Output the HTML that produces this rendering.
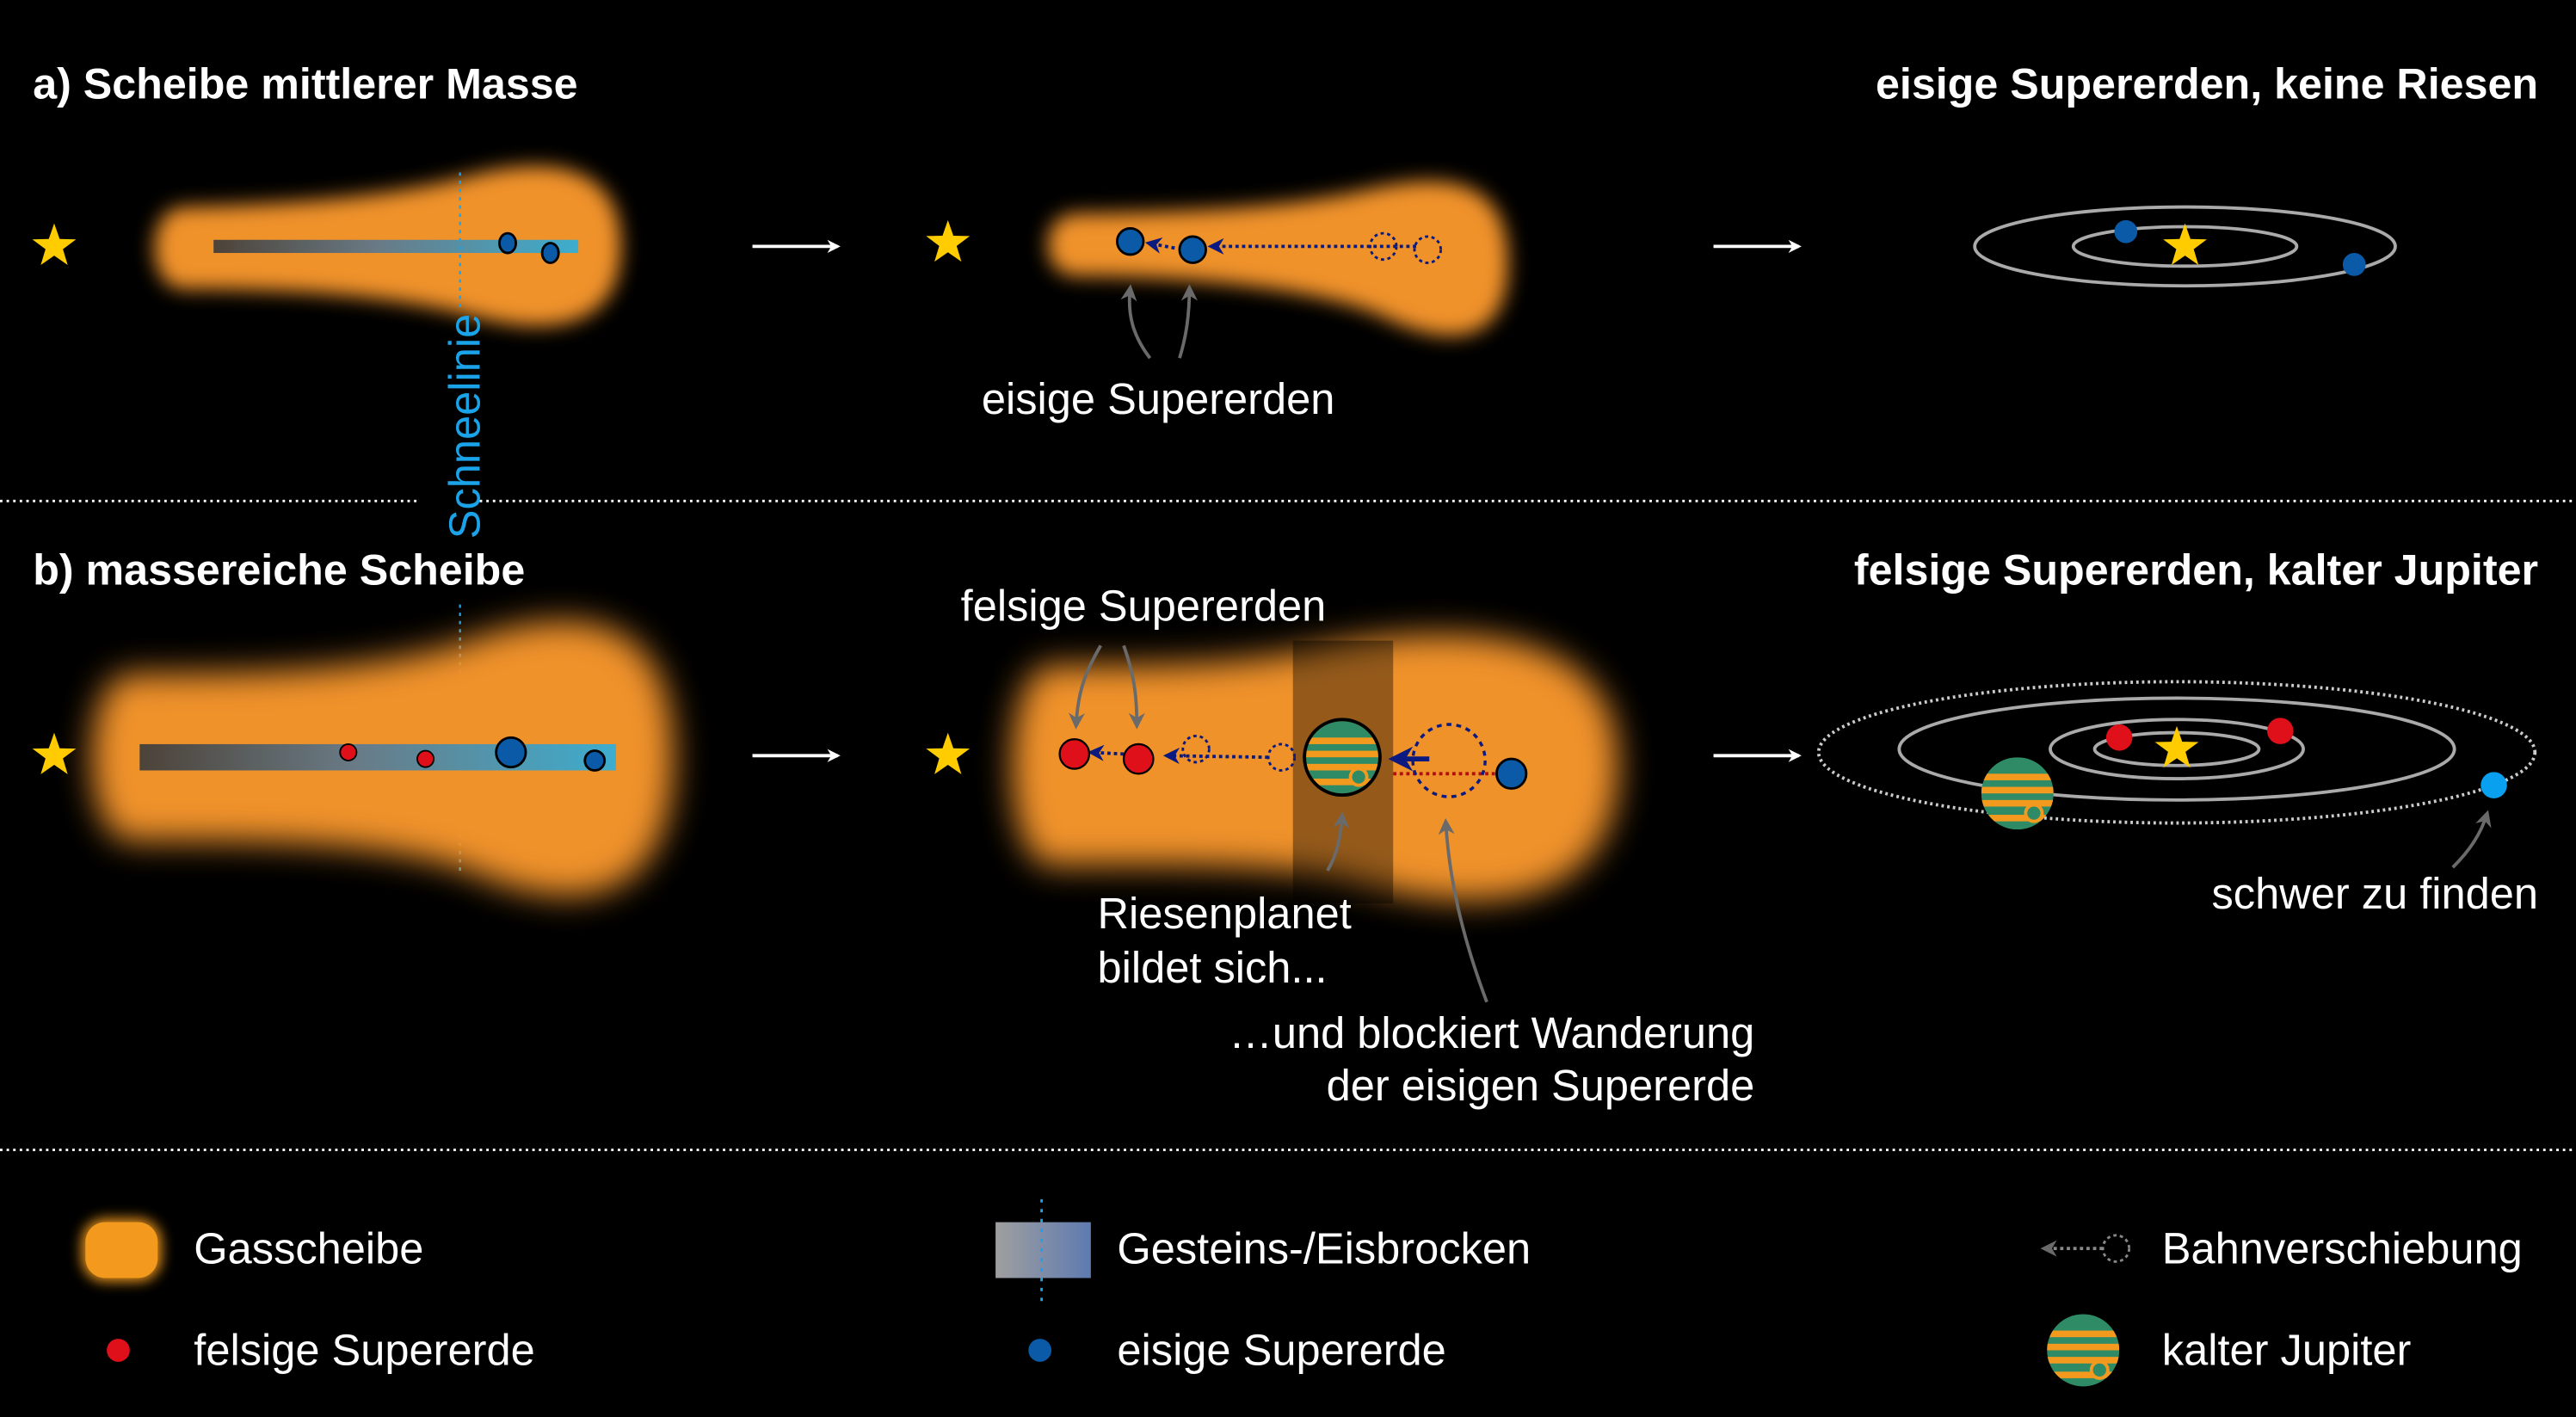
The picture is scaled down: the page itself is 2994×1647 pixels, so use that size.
<!DOCTYPE html>
<html><head><meta charset="utf-8"><style>
html,body{margin:0;padding:0;background:#000;}
svg{display:block;}
text{font-family:"Liberation Sans",sans-serif;fill:#fff;}
</style></head><body>
<svg width="2994" height="1647" viewBox="0 0 1568 862.6" preserveAspectRatio="none" xmlns="http://www.w3.org/2000/svg">
<defs>
<filter id="bl" x="-20%" y="-40%" width="140%" height="180%"><feGaussianBlur stdDeviation="6"/></filter>
<filter id="bl2" x="-20%" y="-40%" width="140%" height="180%"><feGaussianBlur stdDeviation="10"/></filter>
<filter id="bl3" x="-50%" y="-50%" width="200%" height="200%"><feGaussianBlur stdDeviation="4"/></filter>
<linearGradient id="deb" x1="0" x2="1" y1="0" y2="0"><stop offset="0" stop-color="#3a3a3a"/><stop offset="0.45" stop-color="#5a7890"/><stop offset="1" stop-color="#2ab0e0"/></linearGradient>
<linearGradient id="deb2" x1="0" x2="1"><stop offset="0" stop-color="#bbb"/><stop offset="1" stop-color="#7090d0"/></linearGradient>
<marker id="ah" viewBox="0 0 10 10" refX="8" refY="5" markerWidth="5" markerHeight="5" orient="auto"><path d="M0,0 L10,5 L0,10 L3,5 Z" fill="#0a1a80"/></marker>
<marker id="gh" viewBox="0 0 10 10" refX="8" refY="5" markerWidth="5" markerHeight="5" orient="auto"><path d="M0,0 L10,5 L0,10 L3,5 Z" fill="#6a6a6a"/></marker>
<marker id="wh" viewBox="0 0 10 10" refX="8" refY="5" markerWidth="4" markerHeight="4" orient="auto"><path d="M0,0 L10,5 L0,10 L3,5 Z" fill="#fff"/></marker>
<clipPath id="jc"><circle cx="0" cy="0" r="22"/></clipPath>
<g id="jup">
<g clip-path="url(#jc)">
<rect x="-22" y="-22" width="44" height="44" fill="#2e8b66"/>
<rect x="-22" y="-12" width="44" height="4" fill="#f39a1e"/>
<rect x="-22" y="-4" width="44" height="4" fill="#f39a1e"/>
<rect x="-22" y="4" width="44" height="4" fill="#f39a1e"/>
<rect x="-22" y="13" width="44" height="4" fill="#f39a1e"/>
<circle cx="10" cy="12" r="5" fill="#2e8b66" stroke="#f39a1e" stroke-width="2"/>
</g>
</g>
<path id="star" d="M0,-14 L3.3,-4.5 L13.3,-4.3 L5.3,1.7 L8.2,11.3 L0,5.6 L-8.2,11.3 L-5.3,1.7 L-13.3,-4.3 L-3.3,-4.5 Z" fill="#ffcc00"/>
</defs>
<rect width="1568" height="862.6" fill="#000"/>

<!-- titles -->
<text x="20" y="60" font-size="26.3" font-weight="bold">a) Scheibe mittlerer Masse</text>
<text x="1545" y="60" font-size="26.3" font-weight="bold" text-anchor="end">eisige Supererden, keine Riesen</text>
<text x="20" y="356" font-size="26.3" font-weight="bold">b) massereiche Scheibe</text>
<text x="1545" y="356" font-size="26.3" font-weight="bold" text-anchor="end">felsige Supererden, kalter Jupiter</text>

<!-- separators -->
<line x1="0" y1="305" x2="255" y2="305" stroke="#fff" stroke-width="1.5" stroke-dasharray="1.5 2.5"/>
<line x1="292" y1="305" x2="1568" y2="305" stroke="#fff" stroke-width="1.5" stroke-dasharray="1.5 2.5"/>
<line x1="0" y1="700" x2="1568" y2="700" stroke="#fff" stroke-width="1.5" stroke-dasharray="1.5 2.5"/>

<!-- a: disk 1 -->
<use href="#star" x="33" y="150"/>
<path filter="url(#bl)" fill="#f0922a" d="M112,126 C180,124 240,120 290,106 C335,95 378,100 378,150 C378,200 335,205 290,193 C240,180 180,176 112,176 C88,176 88,126 112,126 Z"/>
<rect x="130" y="146" width="222" height="8" fill="url(#deb)" opacity="0.9"/>
<line x1="280" y1="105" x2="280" y2="190" stroke="#1aa3e8" stroke-width="1.2" stroke-dasharray="2 3"/>
<text transform="translate(292,328) rotate(-90)" font-size="26.5" style="fill:#1aa3e8">Schneelinie</text>
<line x1="280" y1="368" x2="280" y2="530" stroke="#1aa3e8" stroke-width="1.2" stroke-dasharray="2 3"/>
<ellipse cx="309" cy="148" rx="5" ry="6" fill="#0a5aa8" stroke="#000" stroke-width="1.5"/>
<ellipse cx="335" cy="154" rx="5" ry="6" fill="#0a5aa8" stroke="#000" stroke-width="1.5"/>

<line x1="458" y1="150" x2="510" y2="150" stroke="#fff" stroke-width="2" marker-end="url(#wh)"/>
<line x1="1043" y1="150" x2="1095" y2="150" stroke="#fff" stroke-width="2" marker-end="url(#wh)"/>
<line x1="458" y1="460" x2="510" y2="460" stroke="#fff" stroke-width="2" marker-end="url(#wh)"/>
<line x1="1043" y1="460" x2="1095" y2="460" stroke="#fff" stroke-width="2" marker-end="url(#wh)"/>

<!-- a: disk 2 -->
<use href="#star" x="577" y="148"/>
<path filter="url(#bl)" fill="#f0922a" d="M655,130 C720,129 780,127 830,116 C880,104 918,108 918,160 C918,212 880,212 840,192 C800,175 720,168 655,168 C632,168 632,130 655,130 Z"/>
<line x1="862" y1="150" x2="737" y2="150" stroke="#0a1a80" stroke-width="2" stroke-dasharray="2 2" marker-end="url(#ah)"/>
<line x1="715" y1="151" x2="699" y2="148" stroke="#0a1a80" stroke-width="2" stroke-dasharray="2 2" marker-end="url(#ah)"/>
<circle cx="842" cy="150" r="8" fill="none" stroke="#0a1a80" stroke-width="1.5" stroke-dasharray="2 2"/>
<circle cx="869" cy="152" r="8" fill="none" stroke="#0a1a80" stroke-width="1.5" stroke-dasharray="2 2"/>
<circle cx="688" cy="147" r="8" fill="#0a5aa8" stroke="#000" stroke-width="1.5"/>
<circle cx="726" cy="152" r="8" fill="#0a5aa8" stroke="#000" stroke-width="1.5"/>
<path d="M700,218 C690,205 686,192 688,175" fill="none" stroke="#6a6a6a" stroke-width="2" marker-end="url(#gh)"/>
<path d="M718,218 C722,205 724,192 724,175" fill="none" stroke="#6a6a6a" stroke-width="2" marker-end="url(#gh)"/>
<text x="705" y="252" font-size="26.5" text-anchor="middle">eisige Supererden</text>

<!-- a: system -->
<ellipse cx="1330" cy="150" rx="68" ry="12" fill="none" stroke="#aaa" stroke-width="2"/>
<ellipse cx="1330" cy="150" rx="128" ry="24" fill="none" stroke="#aaa" stroke-width="2"/>
<use href="#star" x="1330" y="150"/>
<circle cx="1294" cy="141" r="7" fill="#0a5aa8"/>
<circle cx="1433" cy="161" r="7" fill="#0a5aa8"/>

<!-- b: disk 1 -->
<use href="#star" x="33" y="460"/>
<path filter="url(#bl2)" fill="#f0922a" d="M80,410 C160,410 230,408 285,390 C340,370 410,365 410,460 C410,560 340,555 285,530 C230,512 160,512 80,512 C48,512 48,410 80,410 Z"/>
<rect x="85" y="453" width="290" height="16" fill="url(#deb)" opacity="0.9"/>
<circle cx="212" cy="458" r="5" fill="#e0101a" stroke="#000" stroke-width="1"/>
<circle cx="259" cy="462" r="5" fill="#e0101a" stroke="#000" stroke-width="1"/>
<circle cx="311" cy="458" r="9" fill="#0a5aa8" stroke="#000" stroke-width="1.5"/>
<circle cx="362" cy="463" r="6" fill="#0a5aa8" stroke="#000" stroke-width="1.5"/>

<!-- b: disk 2 -->
<use href="#star" x="577" y="460"/>
<path filter="url(#bl2)" fill="#f0922a" d="M640,405 C700,405 750,405 800,395 C860,382 985,370 985,465 C985,565 880,555 820,535 C770,525 700,527 640,527 C608,527 608,405 640,405 Z"/>
<rect x="787" y="390" width="61" height="160" fill="#000" opacity="0.38"/>
<line x1="848" y1="471" x2="918" y2="471" stroke="#b01010" stroke-width="2" stroke-dasharray="2 2"/>
<line x1="870" y1="462" x2="848" y2="462" stroke="#0a1a80" stroke-width="3" marker-end="url(#ah)"/>
<circle cx="882" cy="463" r="22" fill="none" stroke="#0a1a80" stroke-width="1.8" stroke-dasharray="3 3"/>
<line x1="772" y1="461" x2="710" y2="460" stroke="#0a1a80" stroke-width="2" stroke-dasharray="2 2" marker-end="url(#ah)"/>
<line x1="684" y1="459" x2="664" y2="458" stroke="#0a1a80" stroke-width="2" stroke-dasharray="2 2" marker-end="url(#ah)"/>
<circle cx="728" cy="456" r="8" fill="none" stroke="#0a1a80" stroke-width="1.5" stroke-dasharray="2 2"/>
<circle cx="780" cy="461" r="8" fill="none" stroke="#0a1a80" stroke-width="1.5" stroke-dasharray="2 2"/>
<circle cx="654" cy="459" r="9" fill="#e0101a" stroke="#000" stroke-width="1.2"/>
<circle cx="693" cy="462" r="9" fill="#e0101a" stroke="#000" stroke-width="1.2"/>
<use href="#jup" x="817" y="461"/>
<circle cx="817" cy="461" r="23" fill="none" stroke="#000" stroke-width="2"/>
<circle cx="920" cy="471" r="9" fill="#0a5aa8" stroke="#000" stroke-width="1.5"/>
<path d="M670,393 C660,410 656,422 655,442" fill="none" stroke="#6a6a6a" stroke-width="2" marker-end="url(#gh)"/>
<path d="M684,393 C690,410 692,422 692,442" fill="none" stroke="#6a6a6a" stroke-width="2" marker-end="url(#gh)"/>
<path d="M808,530 C814,520 816,510 817,496" fill="none" stroke="#6a6a6a" stroke-width="2" marker-end="url(#gh)"/>
<path d="M905,610 C890,570 882,535 880,500" fill="none" stroke="#6a6a6a" stroke-width="2" marker-end="url(#gh)"/>
<text x="696" y="378" font-size="26.5" text-anchor="middle">felsige Supererden</text>
<text x="668" y="565" font-size="26.5">Riesenplanet</text>
<text x="668" y="598" font-size="26.5">bildet sich...</text>
<text x="1068" y="638" font-size="26.5" text-anchor="end">…und blockiert Wanderung</text>
<text x="1068" y="670" font-size="26.5" text-anchor="end">der eisigen Supererde</text>

<!-- b: system -->
<ellipse cx="1325" cy="458" rx="218" ry="43" fill="none" stroke="#ccc" stroke-width="2" stroke-dasharray="1.5 2"/>
<ellipse cx="1325" cy="456" rx="169" ry="31" fill="none" stroke="#aaa" stroke-width="2"/>
<ellipse cx="1325" cy="456" rx="77" ry="18" fill="none" stroke="#aaa" stroke-width="2"/>
<ellipse cx="1325" cy="456" rx="50" ry="10" fill="none" stroke="#aaa" stroke-width="2"/>
<use href="#star" x="1325" y="456"/>
<circle cx="1290" cy="449" r="8" fill="#e0101a"/>
<circle cx="1388" cy="445" r="8" fill="#e0101a"/>
<use href="#jup" x="1228" y="483"/>
<circle cx="1518" cy="478" r="8" fill="#0aa0f0"/>
<path d="M1493,528 C1503,518 1510,508 1514,495" fill="none" stroke="#6a6a6a" stroke-width="2" marker-end="url(#gh)"/>
<text x="1545" y="553" font-size="26.5" text-anchor="end">schwer zu finden</text>

<!-- legend -->
<rect x="50" y="742" width="48" height="38" rx="14" fill="#f39a1e" filter="url(#bl3)"/>
<rect x="52" y="744" width="44" height="34" rx="12" fill="#f39a1e"/>
<text x="118" y="769" font-size="26.5">Gasscheibe</text>
<rect x="606" y="744" width="58" height="34" fill="url(#deb2)" opacity="0.85"/>
<line x1="634" y1="730" x2="634" y2="792" stroke="#1aa3e8" stroke-width="1.5" stroke-dasharray="2 4"/>
<text x="680" y="769" font-size="26.5">Gesteins-/Eisbrocken</text>
<line x1="1280" y1="760" x2="1244" y2="760" stroke="#888" stroke-width="2" stroke-dasharray="2 2" marker-end="url(#gh)"/>
<circle cx="1288" cy="760" r="8" fill="none" stroke="#888" stroke-width="1.5" stroke-dasharray="2 2"/>
<text x="1316" y="769" font-size="26.5">Bahnverschiebung</text>
<circle cx="72" cy="822" r="7" fill="#e0101a"/>
<text x="118" y="831" font-size="26.5">felsige Supererde</text>
<circle cx="633" cy="822" r="7" fill="#0a5aa8"/>
<text x="680" y="831" font-size="26.5">eisige Supererde</text>
<use href="#jup" x="1268" y="822"/>
<text x="1316" y="831" font-size="26.5">kalter Jupiter</text>
</svg>
</body></html>
